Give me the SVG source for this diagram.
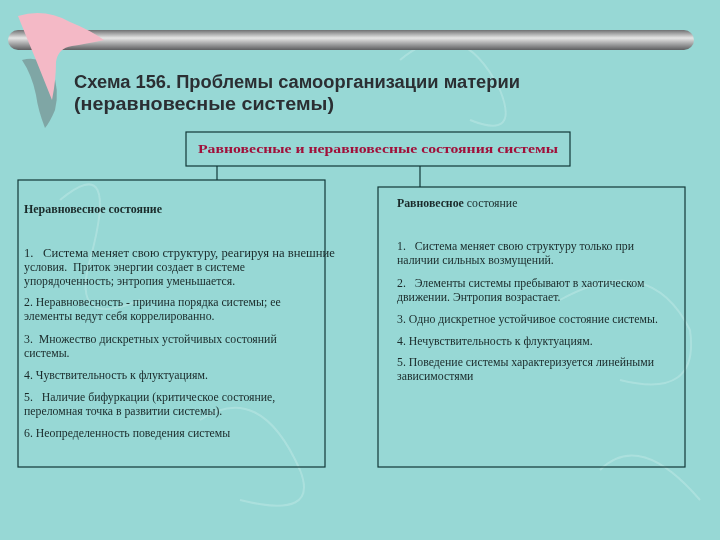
<svg xmlns="http://www.w3.org/2000/svg" width="720" height="540" viewBox="0 0 720 540">
<defs>
<linearGradient id="bar" x1="0" y1="0" x2="0" y2="1">
<stop offset="0" stop-color="#6f7072"/><stop offset="0.4" stop-color="#e6e6e6"/><stop offset="1" stop-color="#5e5f61"/>
</linearGradient>
<style>
.box{fill:none;stroke:#123838;stroke-width:1.2}
.t{font-family:"Liberation Serif",serif;font-size:11.8px;fill:#1a2a2a;white-space:pre}
.h{font-family:"Liberation Sans",sans-serif;font-size:18px;font-weight:bold;fill:#2b2f33}
.c{stroke:#123838;stroke-width:1.2;fill:none}
.sw{fill:none;stroke:#c8ecea;stroke-width:2;opacity:0.7}
</style>
</defs>
<rect width="720" height="540" fill="#97d8d5"/>
<g opacity="0.6">
<path class="sw" d="M60 200 Q120 150 90 260 Q70 330 140 300"/>
<path class="sw" d="M400 60 Q460 10 500 90 Q520 140 470 120"/>
<path class="sw" d="M560 300 Q650 250 690 330 Q700 400 620 380"/>
<path class="sw" d="M200 420 Q260 380 300 470 Q320 520 240 500"/>
<path class="sw" d="M600 470 Q640 430 700 500"/>
</g>
<g id="header">
<path d="M22 60 Q40 55 52 70 Q60 90 55 110 Q50 122 45 128 Q38 110 36 95 Q32 75 22 60 Z" fill="#6f8686" opacity="0.6"/>
<rect x="8" y="30" width="686" height="20" rx="10" fill="url(#bar)"/>
<path d="M18 16 Q45 8 70 22 Q90 30 104 40 Q85 44 72 46 Q58 48 56 62 Q56 80 52 100 Q44 80 36 60 Q26 36 18 16 Z" fill="#f4b9c6"/>
<text class="h" x="74" y="88" textLength="446" lengthAdjust="spacingAndGlyphs">Схема 156. Проблемы самоорганизации материи</text>
<text class="h" x="74" y="110" textLength="260" lengthAdjust="spacingAndGlyphs">(неравновесные системы)</text>
</g>
<g id="connectors">
<path class="c" d="M217 166V180"/>
<path class="c" d="M420 166V187"/>
</g>
<g id="top">
<rect class="box" x="186" y="132" width="384" height="34"/>
<text x="378" y="153" text-anchor="middle" font-family="Liberation Serif,serif" font-size="13" font-weight="bold" fill="#a0103a" textLength="360" lengthAdjust="spacingAndGlyphs">Равновесные и неравновесные состояния системы</text>
</g>
<g id="left">
<rect class="box" x="18" y="180" width="307" height="287"/>
<text class="t" x="24" y="213" font-weight="bold" textLength="138" lengthAdjust="spacingAndGlyphs">Неравновесное состояние</text>
<text class="t" x="24" y="257" textLength="311" lengthAdjust="spacingAndGlyphs">1.   Система меняет свою структуру, реагируя на внешние</text>
<text class="t" x="24" y="271">условия.  Приток энергии создает в системе</text>
<text class="t" x="24" y="285">упорядоченность; энтропия уменьшается.</text>
<text class="t" x="24" y="306">2. Неравновесность - причина порядка системы; ее</text>
<text class="t" x="24" y="320">элементы ведут себя коррелированно.</text>
<text class="t" x="24" y="343">3.  Множество дискретных устойчивых состояний</text>
<text class="t" x="24" y="357">системы.</text>
<text class="t" x="24" y="379">4. Чувствительность к флуктуациям.</text>
<text class="t" x="24" y="401">5.   Наличие бифуркации (критическое состояние,</text>
<text class="t" x="24" y="415">переломная точка в развитии системы).</text>
<text class="t" x="24" y="437">6. Неопределенность поведения системы</text>
</g>
<g id="right">
<rect class="box" x="378" y="187" width="307" height="280"/>
<text class="t" x="397" y="207"><tspan font-weight="bold">Равновесное</tspan> состояние</text>
<text class="t" x="397" y="250">1.   Система меняет свою структуру только при</text>
<text class="t" x="397" y="264">наличии сильных возмущений.</text>
<text class="t" x="397" y="287">2.   Элементы системы пребывают в хаотическом</text>
<text class="t" x="397" y="301">движении. Энтропия возрастает.</text>
<text class="t" x="397" y="323">3. Одно дискретное устойчивое состояние системы.</text>
<text class="t" x="397" y="345">4. Нечувствительность к флуктуациям.</text>
<text class="t" x="397" y="366">5. Поведение системы характеризуется линейными</text>
<text class="t" x="397" y="380">зависимостями</text>
</g>
</svg>
